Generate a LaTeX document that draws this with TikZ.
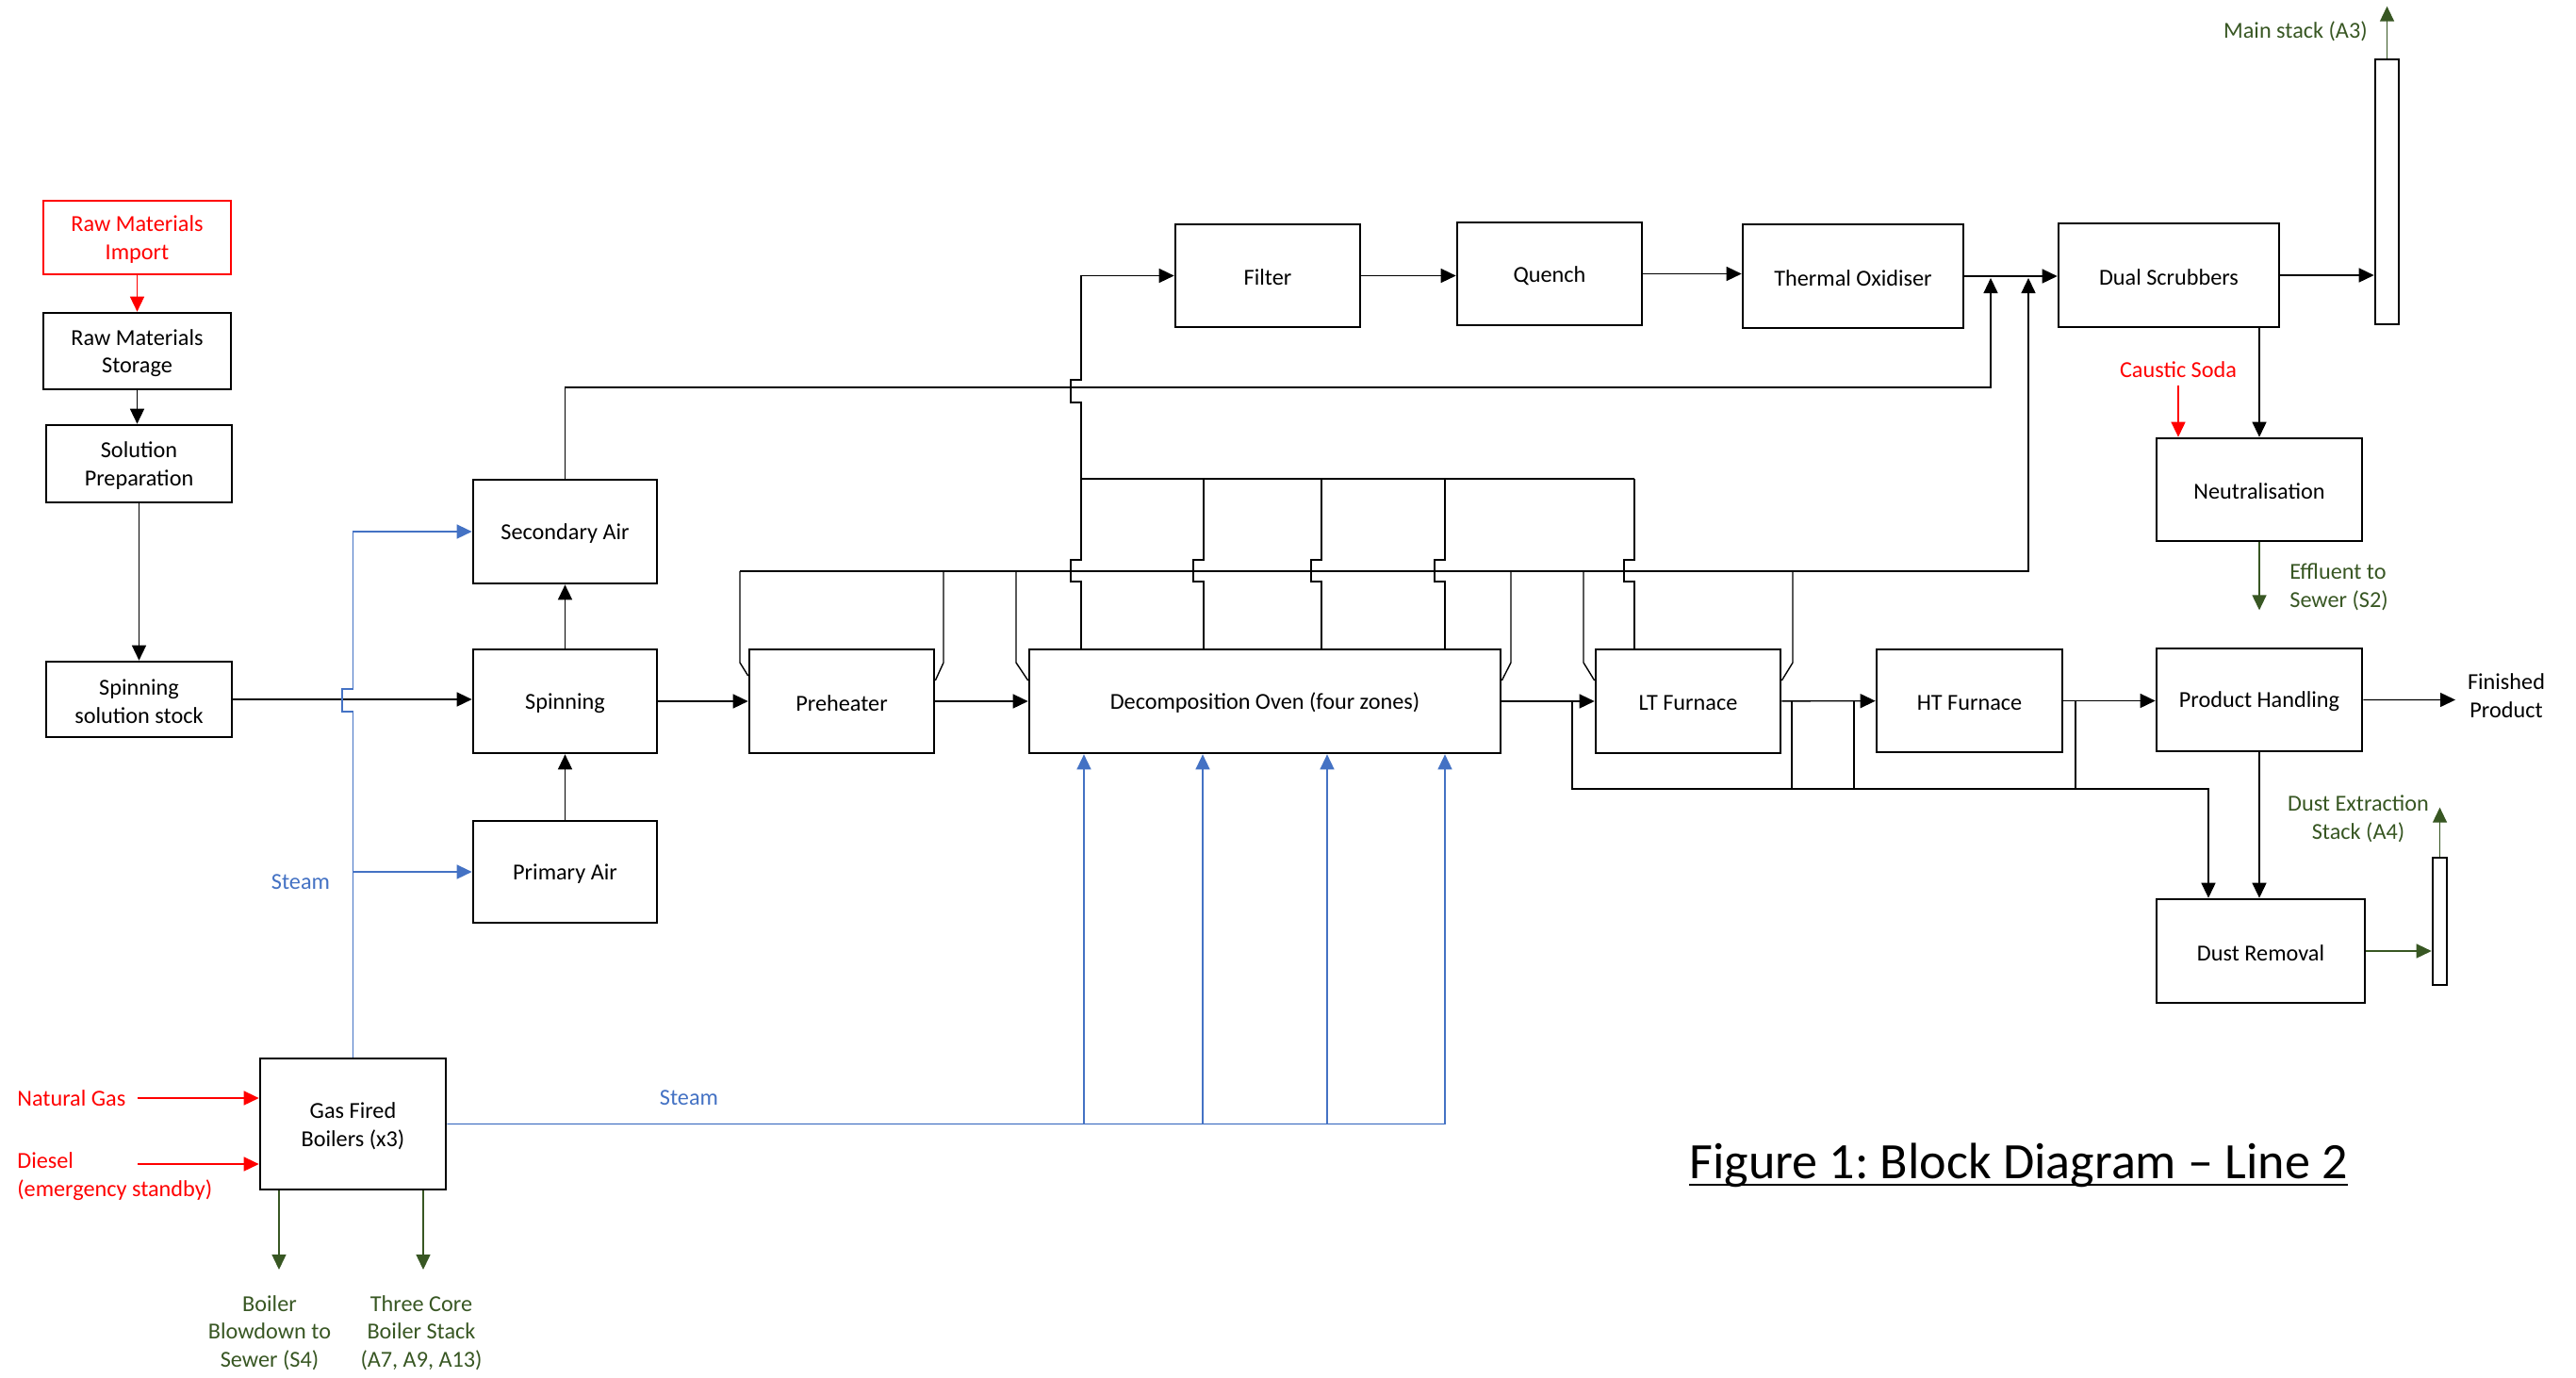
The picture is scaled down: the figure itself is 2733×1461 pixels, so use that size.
\documentclass[tikz,border=0pt]{standalone}
\usepackage{fontspec}
\setmainfont{Carlito}
\usetikzlibrary{arrows.meta,fit}
\definecolor{flowred}{HTML}{FF0000}
\definecolor{ventgreen}{HTML}{385723}
\definecolor{steamblue}{HTML}{4472C4}

\begin{document}
\frenchspacing
\begin{tikzpicture}[x=0.02cm,y=-0.02cm,
  font=\fontsize{13.8}{16.8}\selectfont,
  blk/.style={draw, line width=1.5pt, inner sep=0pt},
  pipe/.style={line width=0.8pt},
  arr/.style={pipe, -{Triangle[length=0.32cm,width=0.3cm]}},
  redarr/.style={arr, flowred},
  grnarr/.style={arr, ventgreen},
  bluearr/.style={arr, steamblue},
  bluepipe/.style={pipe, steamblue},
  lbl/.style={inner sep=0pt, align=center},
  boxcaption/.style={lbl, yshift=-0.04cm},
]
\fill[white] (0,0) rectangle (2733,1461);
\useasboundingbox (0,0) rectangle (2733,1461);

% ---- process blocks (frame, then its caption at the centre) ----
\newcommand\blockbox[4][black]{%
  \node[blk, draw=#1, fit={#3}] (#2) {};
  \node[boxcaption, text=#1] (#2T) at (#2.center) {#4};}
\blockbox[flowred]{imp}{(46,213) (245,291)}{Raw Materials\\Import}
\blockbox{sto}{(46,332) (245,413)}{Raw Materials\\Storage}
\blockbox{sol}{(49,451) (246,533)}{Solution\\Preparation}
\blockbox{stock}{(49,702) (246,782)}{Spinning\\solution stock}
\blockbox{sa}{(502,509) (697,619)}{Secondary Air}
\blockbox{spin}{(502,689) (697,799)}{Spinning}
\blockbox{pa}{(502,871) (697,979)}{Primary Air}
\blockbox{pre}{(795,689) (991,799)}{Preheater}
\blockbox{dec}{(1092,689) (1592,799)}{Decomposition Oven (four zones)}
\blockbox{lt}{(1693,689) (1889,799)}{LT Furnace}
\blockbox{ht}{(1991,689) (2188,798)}{HT Furnace}
\blockbox{ph}{(2288,688) (2506,797)}{Product Handling}
\blockbox{flt}{(1247,238) (1443,347)}{Filter}
\blockbox{qu}{(1546,236) (1742,345)}{Quench}
\blockbox{tox}{(1849,238) (2083,348)}{Thermal Oxidiser}
\blockbox{ds}{(2184,237) (2418,347)}{Dual Scrubbers}
\blockbox{neu}{(2288,465) (2506,574)}{Neutralisation}
\blockbox{dr}{(2288,954) (2509,1064)}{Dust Removal}
\blockbox{boil}{(276,1123) (473,1262)}{Gas Fired\\Boilers (x3)}
% stacks
\node[blk, fit={(2520,63) (2545,344)}] (stk) {};
\node[blk, fit={(2581,910) (2596,1045)}] (dstk) {};

% ---- free labels ----
\node[lbl, text=steamblue] (steamA) at (319,936) {Steam};
\node[lbl, text=steamblue] (steamB) at (731,1165) {Steam};
\node[lbl, text=flowred, anchor=west] (ng) at (18,1165) {Natural Gas};
\node[lbl, text=flowred, anchor=west, align=left] (dsl) at (18,1248) {Diesel\\(emergency standby)};
\node[lbl, text=ventgreen] (blow) at (286,1414) {Boiler\\Blowdown to\\Sewer (S4)};
\node[lbl, text=ventgreen] (bstack) at (447,1414) {Three Core\\Boiler Stack\\(A7, A9, A13)};
\node[lbl, text=ventgreen, anchor=east] (mainlbl) at (2512,33) {Main stack (A3)};
\node[lbl, text=flowred] (caus) at (2311,392) {Caustic Soda};
\node[lbl, text=ventgreen, anchor=west, align=left] (eff) at (2429,623) {Effluent to\\Sewer (S2)};
\node[lbl] (fin) at (2659,738) {Finished\\Product};
\node[lbl, text=ventgreen] (dustlbl) at (2502,869) {Dust Extraction\\Stack (A4)};
\node[lbl, anchor=base west, font=\fontsize{30.8}{37}\selectfont] (ttl) at (1792,1250) {Figure 1: Block Diagram – Line 2};
\draw[line width=1.2pt] ([yshift=-0.14cm]ttl.base west) -- ([yshift=-0.14cm]ttl.base east);

% ---- raw material line ----
\draw[redarr] (imp.south) -- (imp.south |- sto.north);
\draw[arr] (sto.south) -- (sto.south |- sol.north);
\draw[arr] (sol.south) -- (sol.south |- stock.north);
\draw[arr] (stock.east) -- (stock.east -| spin.west);

% ---- steam to air heaters (jump over the solution line) ----
\draw[bluearr] (boil.north) -- (374.5,755) -- (363,755) -- (363,731) -- (374.5,731) -- (374.5,564) -- (sa.west);
\coordinate (paTap) at (374.5,925);
\draw[bluearr] (paTap) -- (pa.west);

% ---- main fibre line ----
\draw[arr] (spin) -- (sa);
\draw[arr] (pa) -- (spin);
\draw[arr] (spin) -- (pre);
\draw[arr] (pre) -- (dec);
\draw[arr] (dec) -- (lt);
\draw[arr] (lt) -- (ht);
\draw[arr] (ht.east) -- (ht.east -| ph.west);
\draw[arr] (ph.east) -- (2605,742.5);

% ---- off-gas treatment ----
\draw[arr] (flt.east) -- (flt.east -| qu.west);
\draw[arr] (qu.east) -- (qu.east -| tox.west);
\draw[arr] (tox.east) -- (tox.east -| ds.west);
\draw[arr] (ds.east) -- (ds.east -| stk.west);
\draw[grnarr] (stk.north) -- ++(0,-55);
\draw[arr] (neu.north |- ds.south) -- (neu.north);
\draw[redarr] (caus.south) ++(0,8) -- (caus.south |- neu.north);
\draw[grnarr] (neu.south) -- ++(0,72);

% secondary air exhaust to scrubber inlet
\draw[arr] (sa.north) -- (599.5,411) -- (2112,411) -- (2112,295);

% upper header: oven zones and LT furnace to filter
\draw[pipe] (1147,508) -- (1734,508);
\foreach \x in {1277,1402,1533}
  \draw[pipe] (dec.north -| \x,0) -- (\x,617) -- ({\x-11},617) -- ({\x-11},594) -- (\x,594) -- (\x,508);
\draw[pipe] (lt.north -| 1734,0) -- (1734,617) -- (1723,617) -- (1723,594) -- (1734,594) -- (1734,508);
\draw[arr] (dec.north -| 1147,0) -- (1147,617) -- (1136,617) -- (1136,594) -- (1147,594)
  -- (1147,427) -- (1136,427) -- (1136,403) -- (1147,403) |- (flt.west);

% lower header: seal extraction to scrubber inlet
\draw[arr] (785,606) -- (2152,606) -- (2152,295);
\draw[pipe] (785,606) -- (785,703) -- (pre.west |- 0,717);
\draw[pipe] (1001,606) -- (1001,703) -- (pre.east |- 0,722);
\draw[pipe] (1078,606) -- (1078,703) -- (dec.west |- 0,722);
\draw[pipe] (1603,606) -- (1603,703) -- (dec.east |- 0,722);
\draw[pipe] (1680,606) -- (1680,703) -- (lt.west |- 0,722);
\draw[pipe] (1902,606) -- (1902,703) -- (lt.east |- 0,722);

% ---- dust collection ----
\coordinate (dc) at (2343,837);
\draw[arr] (1668,744) -- (1668,837) -- (dc) -- (dc |- dr.north);
\foreach \x in {1901,1967,2202}
  \draw[pipe] (\x,744) -- (\x,837);
\draw[arr] (ph.south) -- (ph.south |- dr.north);
\draw[grnarr] (dr.east) -- (dr.east -| dstk.west);
\draw[grnarr] (dstk.north) -- ++(0,-52);

% ---- boilers ----
\draw[redarr] (ng.east) ++(12,0) -- (boil.west |- ng);
\draw[redarr] (146,1235) -- (boil.west |- 146,1235);
\draw[grnarr] (boil.south -| 296,0) -- (296,1347);
\draw[grnarr] (boil.south -| 449,0) -- (449,1347);
\draw[bluepipe] (boil.east) -- (1533,1192.5);
\foreach \x in {1150,1276,1408,1533}
  \draw[bluearr] (\x,1192.5) -- (dec.south -| \x,0);

\end{tikzpicture}
\end{document}
